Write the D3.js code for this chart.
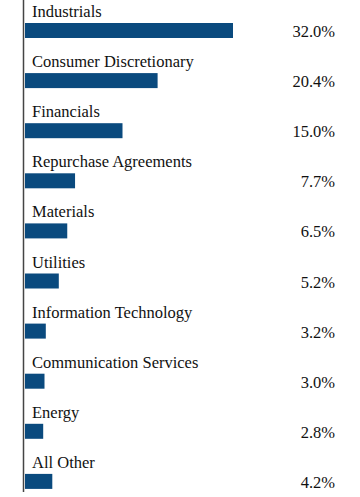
<!DOCTYPE html>
<html><head><meta charset="utf-8">
<script src="https://cdn.jsdelivr.net/npm/d3@7"></script>
<style>html,body{margin:0;padding:0;background:#fff;}svg{display:block;}</style>
</head><body>
<script>
const categories = ["Industrials","Consumer Discretionary","Financials","Repurchase Agreements","Materials","Utilities","Information Technology","Communication Services","Energy","All Other"];
const values = [32.0,20.4,15.0,7.7,6.5,5.2,3.2,3.0,2.8,4.2];
const valueLabels = ["32.0%","20.4%","15.0%","7.7%","6.5%","5.2%","3.2%","3.0%","2.8%","4.2%"];

const W = 360, H = 497;
const svg = d3.select("body").append("svg").attr("width", W).attr("height", H);
const x = d3.scaleLinear().domain([0, 32]).range([25, 233]);
const y = d3.scaleBand().domain(categories).range([0, 501]).paddingInner(0).paddingOuter(0);
const font = "'Liberation Serif','Times New Roman',serif";

const g = svg.selectAll("g.row").data(categories).enter().append("g");
g.append("rect")
  .attr("x", x(0)).attr("y", d => y(d) + 23)
  .attr("width", (d,i) => x(values[i]) - x(0)).attr("height", 15)
  .attr("fill", "#0a4a7e");
g.append("text")
  .attr("x", 32).attr("y", d => y(d) + 17)
  .attr("font-family", font).attr("font-size", 16.5).attr("fill", "#111")
  .text(d => d);
g.append("text")
  .attr("x", 335).attr("y", d => y(d) + 37).attr("text-anchor", "end")
  .attr("font-family", font).attr("font-size", 16.5).attr("fill", "#111")
  .text((d,i) => valueLabels[i]);

svg.append("line").attr("x1", 23.5).attr("x2", 23.5).attr("y1", 0).attr("y2", 492)
  .attr("stroke", "#444").attr("stroke-width", 1.5);
</script>
</body></html>
